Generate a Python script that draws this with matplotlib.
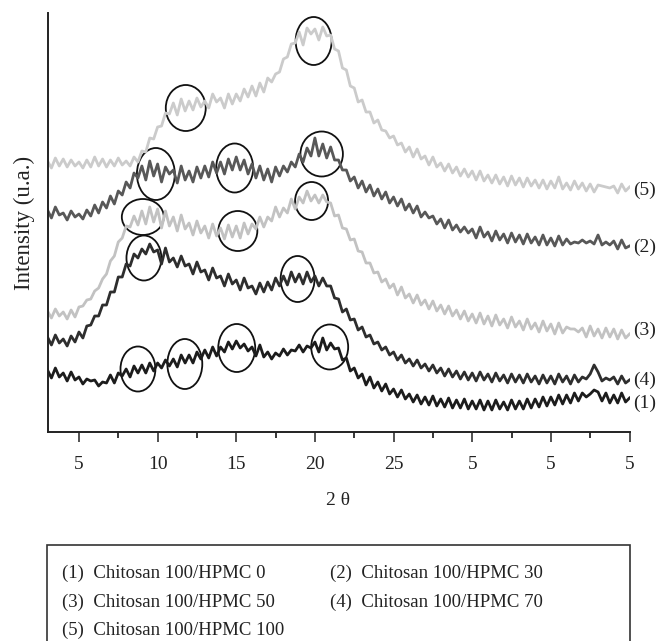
import numpy as np
import matplotlib
matplotlib.use('Agg')
import matplotlib.pyplot as plt
from matplotlib.patches import Ellipse, Rectangle

plt.rcParams['font.family'] = ['Liberation Serif', 'DejaVu Serif']

# 2 theta grid, 0.25 deg step from 3 to 40
two_theta = np.arange(3, 40.001, 0.25)

# intensities (arbitrary units), one row per degree
s5 = [271, 264, 274, 266, 273, 265, 272, 266, 270, 264, 272, 265,
      275, 266, 273, 265, 272, 266, 274, 267, 271, 266, 275, 270,
      281, 280, 294, 293, 305, 306, 319, 318, 329, 317, 333, 321,
      331, 322, 334, 325, 331, 324, 338, 330, 334, 324, 338, 328,
      338, 331, 343, 335, 346, 336, 349, 340, 354, 350, 358, 360,
      373, 375, 388, 389, 400, 387, 404, 398, 403, 392, 405, 396,
      397, 383, 381, 364, 362, 346, 344, 330, 332, 320, 320, 309,
      312, 302, 301, 294, 296, 287, 289, 280, 285, 275, 283, 273,
      276, 267, 275, 265, 269, 261, 268, 259, 265, 256, 263, 255,
      261, 252, 261, 251, 257, 249, 257, 248, 255, 246, 256, 247,
      254, 245, 254, 246, 252, 244, 252, 243, 251, 244, 255, 243,
      249, 242, 251, 243, 249, 241, 248, 240, 247, 246, 245, 244,
      246, 239, 248, 241, 245]

s2 = [222, 214, 225, 217, 219, 212, 221, 215, 218, 213, 222, 216,
      227, 219, 230, 224, 236, 228, 241, 237, 250, 244, 259, 254,
      266, 252, 271, 256, 268, 250, 265, 258, 262, 249, 266, 252,
      261, 250, 265, 254, 266, 255, 270, 259, 270, 258, 273, 262,
      275, 262, 272, 258, 268, 254, 266, 252, 263, 250, 265, 256,
      266, 260, 270, 265, 278, 270, 284, 276, 294, 276, 288, 274,
      285, 272, 272, 262, 262, 251, 255, 244, 251, 240, 247, 236,
      243, 233, 240, 229, 235, 226, 233, 222, 228, 219, 226, 215,
      220, 214, 216, 208, 213, 204, 212, 202, 207, 200, 205, 199,
      203, 194, 205, 195, 200, 191, 201, 192, 198, 189, 199, 190,
      197, 188, 198, 189, 195, 187, 197, 187, 194, 186, 196, 187,
      193, 188, 190, 189, 192, 189, 191, 188, 197, 187, 190, 187,
      191, 183, 192, 184, 186]

s3 = [121, 114, 123, 116, 120, 113, 122, 115, 125, 126, 132, 133,
      141, 144, 153, 158, 171, 176, 190, 194, 206, 205, 216, 207,
      221, 208, 225, 210, 223, 204, 221, 206, 215, 201, 217, 203,
      209, 197, 211, 199, 206, 194, 208, 196, 204, 193, 207, 195,
      206, 194, 209, 198, 208, 203, 215, 205, 215, 211, 225, 215,
      224, 219, 233, 223, 235, 229, 241, 231, 237, 229, 237, 230,
      229, 216, 217, 204, 203, 192, 193, 181, 180, 169, 169, 159,
      160, 150, 153, 144, 148, 137, 145, 134, 138, 129, 137, 127,
      132, 123, 131, 121, 127, 118, 126, 116, 122, 113, 121, 111,
      118, 109, 119, 108, 116, 106, 117, 107, 113, 104, 115, 105,
      111, 102, 113, 103, 109, 100, 111, 101, 108, 98, 109, 99,
      105, 103, 103, 100, 104, 95, 106, 96, 103, 94, 104, 95,
      103, 93, 102, 94, 98]

s4 = [95, 87, 97, 89, 93, 86, 96, 90, 100, 94, 106, 107,
      116, 116, 127, 127, 140, 140, 155, 155, 168, 166, 178, 174,
      183, 178, 188, 180, 182, 168, 184, 170, 174, 165, 176, 166,
      168, 158, 170, 160, 162, 152, 164, 154, 156, 146, 158, 148,
      152, 142, 154, 144, 146, 138, 149, 140, 150, 142, 154, 146,
      156, 147, 160, 150, 158, 148, 160, 150, 156, 146, 154, 146,
      146, 134, 133, 120, 123, 112, 113, 102, 105, 95, 97, 88,
      90, 82, 85, 77, 80, 72, 77, 69, 73, 66, 72, 64,
      68, 61, 67, 59, 64, 56, 63, 55, 61, 53, 60, 52,
      59, 51, 60, 52, 58, 50, 59, 51, 57, 49, 58, 50,
      57, 49, 58, 50, 56, 48, 57, 49, 56, 48, 58, 50,
      56, 48, 57, 50, 55, 53, 58, 67, 60, 51, 54, 52,
      55, 48, 56, 49, 52]

s1 = [62, 54, 64, 55, 59, 51, 60, 52, 55, 48, 53, 51,
      52, 46, 50, 49, 57, 49, 59, 56, 63, 55, 66, 59,
      67, 59, 69, 61, 69, 64, 72, 66, 73, 65, 77, 69,
      77, 69, 80, 73, 82, 74, 85, 76, 85, 80, 90, 83,
      91, 84, 88, 81, 85, 76, 87, 75, 80, 73, 79, 76,
      83, 77, 82, 81, 87, 80, 86, 84, 90, 80, 94, 82,
      89, 83, 84, 72, 74, 61, 64, 54, 58, 47, 55, 44,
      50, 41, 48, 38, 43, 35, 42, 33, 38, 30, 37, 28,
      35, 27, 36, 26, 33, 25, 34, 24, 32, 24, 33, 23,
      31, 23, 32, 22, 31, 22, 32, 23, 30, 22, 32, 23,
      31, 23, 33, 24, 33, 25, 35, 26, 35, 27, 37, 28,
      37, 29, 39, 31, 39, 35, 38, 42, 40, 31, 39, 29,
      37, 29, 39, 30, 34]

labels = ['(5)', '(2)', '(3)', '(4)', '(1)']
label_h = [242, 185, 102, 52, 29]
colors = ['#cbcbcb', '#585858', '#c2c2c2', '#2e2e2e', '#1c1c1c']
data = [s5, s2, s3, s4, s1]

# circled regions: (2theta, intensity, width deg, height)
circles = [(19.92, 391, 2.29, 48), (11.79, 324, 2.54, 46), (9.89, 258, 2.41, 52),
           (14.90, 264, 2.35, 49), (20.43, 278, 2.7, 45), (9.06, 215, 2.67, 36),
           (15.10, 201, 2.48, 40), (19.79, 231, 2.1, 38), (9.13, 174, 2.22, 45),
           (18.90, 153, 2.16, 46), (8.75, 63, 2.22, 45), (11.73, 68, 2.22, 50),
           (15.03, 84, 2.35, 48), (20.94, 85, 2.35, 45)]

tick_pos = [5, 10, 15, 20, 25, 30, 35, 40]
tick_lab = ['5', '10', '15', '20', '25', '5', '5', '5']

legend_rows = [('(1)  Chitosan 100/HPMC 0', '(2)  Chitosan 100/HPMC 30'),
               ('(3)  Chitosan 100/HPMC 50', '(4)  Chitosan 100/HPMC 70'),
               ('(5)  Chitosan 100/HPMC 100', '')]

fig = plt.figure(figsize=(6.64, 6.41), dpi=100)
ax = fig.add_axes([47.5 / 664, 209 / 641, 582 / 664, 419 / 641])

for lab, vals, col, lh in zip(labels, data, colors, label_h):
    ax.plot(two_theta, vals, color=col, lw=2.0)
    ax.text(40.2, lh, lab, ha='left', va='center', fontsize=14,
            color='#222222', clip_on=False)

for cx, cy, w, h in circles:
    ax.add_patch(Ellipse((cx, cy), w, h, fill=False, ec='#111111', lw=1.3))

ax.set_xlim(3, 40)
ax.set_ylim(0, 419)
ax.set_xticks(tick_pos)
ax.set_xticklabels(tick_lab)
ax.set_xticks([7.5, 12.5, 17.5, 22.5, 27.5, 32.5, 37.5], minor=True)
ax.set_yticks([])
ax.tick_params(axis='x', which='major', direction='out', length=7, width=1.1,
               labelsize=14, pad=10, colors='#222222')
ax.tick_params(axis='x', which='minor', direction='out', length=4, width=1.1)
for sp in ['top', 'right']:
    ax.spines[sp].set_visible(False)
for sp in ['left', 'bottom']:
    ax.spines[sp].set_linewidth(1.4)
    ax.spines[sp].set_color('#222222')

ax.set_ylabel('Intensity (u.a.)', fontsize=16.5, labelpad=9, color='#222222')
ax.set_xlabel('2 θ', fontsize=14, labelpad=14, color='#222222')

# legend box below the chart
fig.patches.append(Rectangle((47 / 664, -5 / 641), 583 / 664, 101 / 641,
                             transform=fig.transFigure, fill=False,
                             ec='#333333', lw=1.2))
row_y = [573, 602, 630]
for (a, b), yy in zip(legend_rows, row_y):
    fig.text(62 / 664, 1 - yy / 641, a, fontsize=13.5, va='center', color='#222222')
    fig.text(330 / 664, 1 - yy / 641, b, fontsize=13.5, va='center', color='#222222')

plt.savefig('out.png', dpi=100)
